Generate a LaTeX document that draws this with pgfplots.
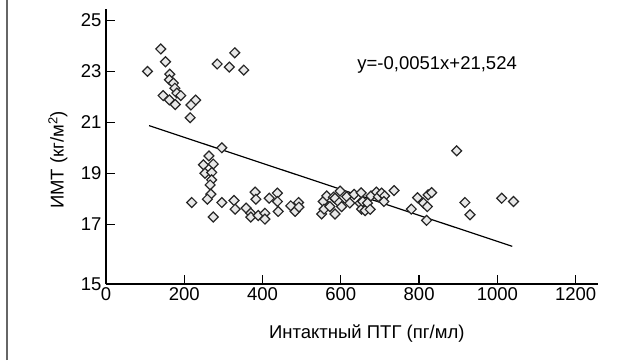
\documentclass[border=0pt]{standalone}
\usepackage{pgfplots}
\pgfplotsset{compat=1.18}
\usepackage{fontspec}
\setmainfont{Liberation Sans}
\begin{document}
\begin{tikzpicture}[x=1pt,y=1pt]
\path[use as bounding box] (0,0) rectangle (621,360);
\draw[gray!80!black, line width=1.6pt] (7,0) -- (7,360);
\begin{axis}[
  at={(106pt,76pt)}, anchor=south west,
  scale only axis, width=492pt, height=275pt,
  xmin=0, xmax=1257, ymin=14.65, ymax=25.45,
  axis lines=left, axis line style={-, line width=2pt},
  tick align=inside, major tick length=9pt,
  tick style={line width=1.3pt, black},
  xtick={0,200,400,600,800,1000,1200},
  ytick={14.65,17,19,21,23,25},
  yticklabels={15,17,19,21,23,25},
  /pgf/number format/1000 sep={},
  /pgf/number format/assume math mode=true,
  tick label style={font=\fontsize{18.5}{20}\selectfont},
  xticklabel style={yshift=0pt},
  yticklabel style={xshift=-1pt},
  label style={font=\fontsize{18.5}{20}\selectfont},
  xlabel={Интактный ПТГ (пг/мл)},
  xlabel style={at={(axis description cs:0.53,-0.18)}, anchor=center},
  clip=false,
]
\addplot[black, line width=1.2pt] coordinates {(110,20.87) (1038,16.13)};
\addplot[only marks, mark=square*, mark size=3.5pt,
  mark options={rotate=45, fill=gray!18, draw=black!85, line width=1.2pt}]
coordinates {
(106,23.0) (140,23.88) (152,23.38) (163,22.89) (162,22.67) (172,22.54) (176,22.34)
(181,22.15) (191,22.05) (146,22.05) (162,21.88) (177,21.70) (229,21.87) (217,21.68)
(215,21.18) (284,23.29) (329,23.73) (315,23.17) (352,23.05) (296,20.0)
(263,19.68) (249,19.33) (274,19.36) (253,19.0) (270,19.03) (270,18.74) (266,18.54)
(268,18.18) (259,17.98) (219,17.85) (296,17.85) (274,17.28)
(327,17.93) (330,17.59) (358,17.63) (370,17.43) (370,17.28) (381,18.26) (383,17.98)
(389,17.34) (406,17.43) (406,17.20) (417,18.02) (438,18.22) (438,17.89) (440,17.50)
(472,17.72) (483,17.50) (492,17.85) (493,17.67)
(551,17.40) (555,17.89) (557,17.59) (564,18.11) (572,17.69) (581,18.06) (585,18.02)
(585,17.40) (596,17.85) (598,18.30) (602,17.69) (615,18.08) (623,17.83) (634,18.17)
(649,17.83) (652,18.23) (653,17.59) (656,17.89) (662,17.53) (668,17.83) (675,17.58)
(677,18.11) (691,18.26) (696,18.08) (704,18.22) (712,18.11) (710,17.89) (736,18.32)
(780,17.59) (796,18.04) (811,17.83) (819,17.15) (823,18.15) (832,18.24) (821,17.69)
(896,19.88) (917,17.85) (930,17.37) (1011,18.02) (1041,17.89)
};
\node[font=\fontsize{18.5}{20}\selectfont, anchor=center] at (axis cs:846,23.26) {y=-0,0051x+21,524};
\node[font=\fontsize{18.5}{20}\selectfont, rotate=90, anchor=center] at (rel axis cs:-0.098,0.451) {ИМТ (кг/м\textsuperscript{2})};
\end{axis}
\end{tikzpicture}
\end{document}
